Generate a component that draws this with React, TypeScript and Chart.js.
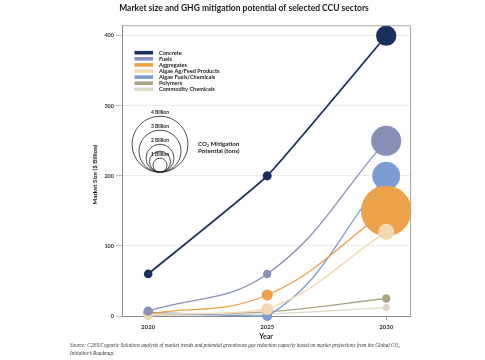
import { useEffect, useRef } from "react";
import { Chart, registerables } from "chart.js";

Chart.register(...registerables);

// ---------- data ----------
const years = [2020, 2025, 2030];
const seriesNames = [
  "Concrete",
  "Fuels",
  "Aggregates",
  "Algae Ag/Feed Products",
  "Algae Fuels/Chemicals",
  "Polymers",
  "Commodity Chemicals",
];
// market size ($ billion)
const concrete = [60, 200, 400];
const fuels = [7, 60, 250];
const aggregates = [3, 30, 150];
const algaeAgFeed = [2, 10, 120];
const algaeFuels = [5, 0, 200];
const polymers = [3, 6, 25];
const commodity = [1, 3, 12];
// CO2 mitigation potential (billion tons) -> bubble size
const concreteCO2 = [0.62, 0.65, 1.45];
const fuelsCO2 = [0.65, 0.6, 2.15];
const aggregatesCO2 = [0.55, 0.8, 3.6];
const algaeAgFeedCO2 = [0.55, 0.85, 1.15];
const algaeFuelsCO2 = [0.7, 0.7, 2.0];
const polymersCO2 = [0.45, 0.4, 0.6];
const commodityCO2 = [0.7, 0.45, 0.5];

const seriesColors = ["#1b2f5f", "#8990b8", "#eca14b", "#f4d8b0", "#7d9cd3", "#aaa585", "#ddd7c6"];
const seriesLineWidths = [1.8, 1.3, 1.3, 1.3, 1.3, 1.3, 1.3];
const seriesTension = [0.12, 0.4, 0.4, 0.4, 0.4, 0.4, 0.4];
const seriesOrder = [0, 1, 3, 2, 4, 5, 6];

const yTicks = [0, 100, 200, 300, 400];
const sizeLegendValues = [4, 3, 2, 1.5, 1];
const sizeLegendLabels = ["4 Billion", "3 Billion", "2 Billion", "", "1 Billion"];

const titleText = "Market size and GHG mitigation potential of selected CCU sectors";
const yTitle = "Market Size ($ Billion)";
const xTitle = "Year";
const sourceLines = [
  "Source: C2ES/Cognetic Solutions analysis of market trends and potential greenhouse gas reduction capacity based on market projections from the Global CO\u2082",
  "Initiative\u2019s Roadmap.",
];

const PX_PER_BILLION = 7;
const SANS = "Lato, 'Open Sans', sans-serif";
const SERIF = "'Liberation Serif', 'DejaVu Serif', serif";

const values = [concrete, fuels, aggregates, algaeAgFeed, algaeFuels, polymers, commodity];
const co2 = [concreteCO2, fuelsCO2, aggregatesCO2, algaeAgFeedCO2, algaeFuelsCO2, polymersCO2, commodityCO2];

const decorPlugin = {
  id: "decor",
  afterDraw(chart: any) {
    const ctx = chart.ctx as CanvasRenderingContext2D;
    const a = chart.chartArea;
    ctx.save();
    // frame top & right
    ctx.strokeStyle = "#a8a8a8";
    ctx.lineWidth = 1;
    ctx.beginPath();
    ctx.moveTo(a.left, a.top + 0.5);
    ctx.lineTo(a.right + 0.5, a.top + 0.5);
    ctx.lineTo(a.right + 0.5, a.bottom);
    ctx.stroke();

    // title
    ctx.fillStyle = "#1a1a1a";
    ctx.font = `bold 8.5px ${SANS}`;
    ctx.textAlign = "center";
    ctx.textBaseline = "middle";
    ctx.fillText(titleText, 244, 8);

    // series legend
    ctx.font = `bold 5.6px ${SANS}`;
    ctx.textAlign = "left";
    seriesNames.forEach((name, i) => {
      const y = a.top + 27.5 + i * 6.1;
      ctx.fillStyle = seriesColors[i];
      ctx.fillRect(a.left + 12.5, y - 1.8, 18.5, 3.6);
      ctx.fillStyle = "#222";
      ctx.fillText(name, a.left + 37, y);
    });

    // size legend
    const cx = a.left + 38;
    const by = a.top + 147;
    ctx.strokeStyle = "#222";
    ctx.lineWidth = 0.8;
    sizeLegendValues.forEach((v, i) => {
      const r = v * PX_PER_BILLION;
      ctx.beginPath();
      ctx.arc(cx, by - r, r, 0, Math.PI * 2);
      ctx.stroke();
      const lbl = sizeLegendLabels[i];
      if (lbl) {
        ctx.fillStyle = "#222";
        ctx.textAlign = "center";
        ctx.font = `bold 5px ${SANS}`;
        ctx.fillText(lbl, cx, by - 2 * r - 4);
      }
    });
    ctx.textAlign = "left";
    ctx.font = `bold 6.2px ${SANS}`;
    ctx.fillStyle = "#222";
    ctx.fillText("CO\u2082 Mitigation", a.left + 76, a.top + 119);
    ctx.fillText("Potential (tons)", a.left + 76, a.top + 126);

    // axis titles
    ctx.font = `bold 6.2px ${SANS}`;
    ctx.textAlign = "center";
    ctx.save();
    ctx.translate(95, (a.top + a.bottom) / 2 + 4);
    ctx.rotate(-Math.PI / 2);
    ctx.fillText(yTitle, 0, 0);
    ctx.restore();
    ctx.font = `bold 7px ${SANS}`;
    ctx.fillText(xTitle, (a.left + a.right) / 2, a.bottom + 21);

    // source
    ctx.font = `italic 5.2px ${SERIF}`;
    ctx.textAlign = "left";
    ctx.fillStyle = "#333";
    sourceLines.forEach((t, i) => ctx.fillText(t, 70, a.bottom + 30 + i * 7.5));
    ctx.restore();
  },
};

export default function App() {
  const ref = useRef<HTMLCanvasElement | null>(null);
  useEffect(() => {
    if (!ref.current) return;
    const datasets = seriesNames.map((name, i) => ({
      label: name,
      data: years.map((yr, j) => ({ x: yr, y: values[i][j] })),
      borderColor: seriesColors[i],
      backgroundColor: seriesColors[i],
      pointBackgroundColor: seriesColors[i],
      pointBorderColor: seriesColors[i],
      pointBorderWidth: 0,
      borderWidth: seriesLineWidths[i],
      pointRadius: co2[i].map((v) => v * PX_PER_BILLION),
      pointHoverRadius: co2[i].map((v) => v * PX_PER_BILLION),
      tension: seriesTension[i],
      order: seriesOrder[i],
      clip: false as any,
    }));
    const chart = new Chart(ref.current, {
      type: "line",
      data: { datasets },
      options: {
        responsive: false,
        animation: false,
        layout: { padding: { left: 90, right: 75, top: 22, bottom: 18 } },
        plugins: { legend: { display: false }, tooltip: { enabled: false }, title: { display: false } },
        scales: {
          x: {
            type: "linear",
            min: 2018.9,
            max: 2031,
            afterBuildTicks: (s: any) => {
              s.ticks = years.map((v) => ({ value: v }));
            },
            afterFit: (s: any) => {
              s.height = 26;
            },
            grid: { drawOnChartArea: false, drawTicks: true, tickLength: 4, color: "#999" },
            border: { color: "#8a8a8a", width: 1 },
            ticks: {
              padding: 3,
              color: "#333",
              font: { family: SANS, size: 6, weight: "bold" },
              callback: (v: any) => String(v),
            },
          },
          y: {
            type: "linear",
            min: 0,
            max: 415,
            afterBuildTicks: (s: any) => {
              s.ticks = yTicks.map((v) => ({ value: v }));
            },
            afterFit: (s: any) => {
              s.width = 32;
            },
            grid: { color: "#e6e6e6", tickColor: "#b0b0b0", tickLength: 6, lineWidth: 0.8 },
            border: { color: "#8a8a8a", width: 1 },
            ticks: {
              padding: 2,
              color: "#333",
              font: { family: SANS, size: 5.5, weight: "bold" },
              callback: (v: any) => String(v),
            },
          },
        },
      },
      plugins: [decorPlugin],
    });
    return () => chart.destroy();
  }, []);
  return (
    <div style={{ position: "fixed", left: 0, top: 0, width: 485, height: 360, background: "#fff" }}>
      <canvas ref={ref} width={485} height={360} style={{ display: "block" }} />
    </div>
  );
}
